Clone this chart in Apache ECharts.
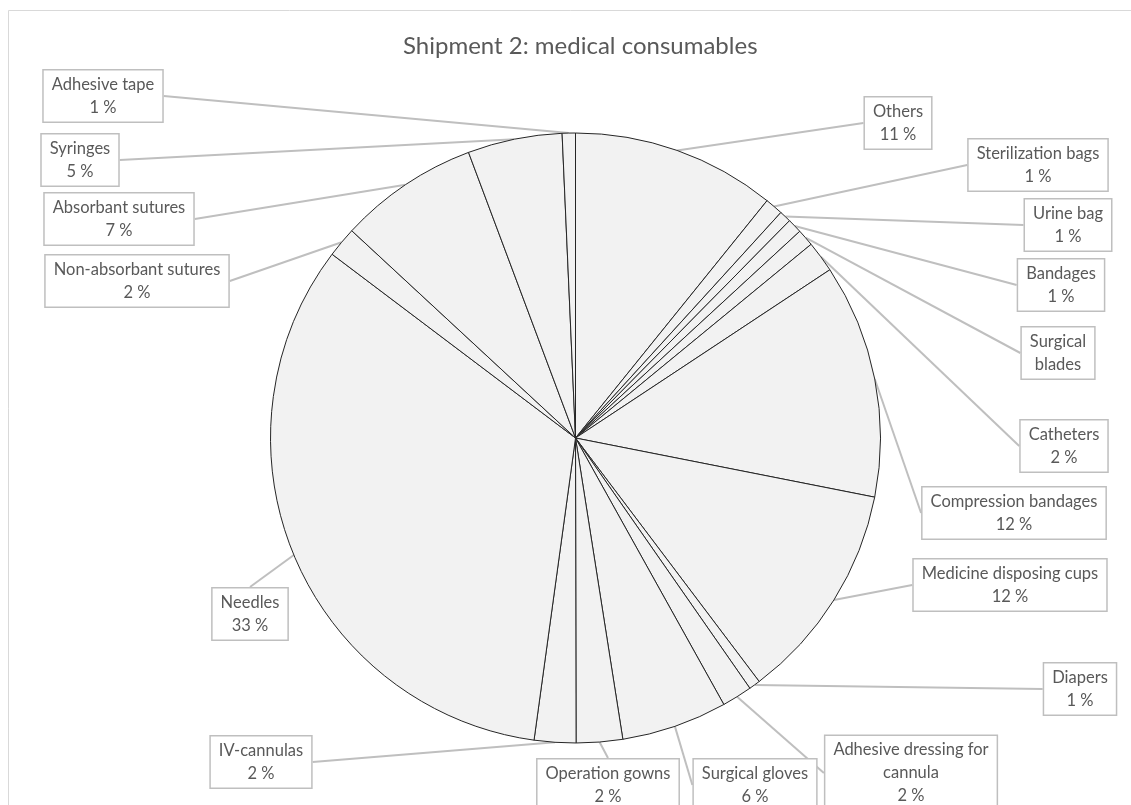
<!DOCTYPE html>
<html>
<head>
<meta charset="utf-8">
<script src="https://cdn.jsdelivr.net/npm/echarts@6/dist/echarts.min.js"></script>
<style>
  html, body { margin: 0; padding: 0; background: #fff; }
  #chart { width: 1131px; height: 805px; }
</style>
</head>
<body>
<div id="chart"></div>
<script>
// slices clockwise from 12 o'clock
const categories = [
  'Others', 'Sterilization bags', 'Urine bag', 'Bandages', 'Surgical blades',
  'Catheters', 'Compression bandages', 'Medicine disposing cups', 'Diapers',
  'Adhesive dressing for cannula', 'Surgical gloves', 'Operation gowns',
  'IV-cannulas', 'Needles', 'Non-absorbant sutures', 'Absorbant sutures',
  'Syringes', 'Adhesive tape'
];
const shares = [
  10.8, 0.95, 0.62, 0.77, 0.9,
  1.65, 12.4, 11.6, 0.6,
  1.6, 5.6, 2.45,
  2.2, 33.1, 1.6, 7.4,
  5.0, 0.7
];
// labels whose percentage is not shown in the source
const noPct = ['Surgical blades'];

// callout box centres (layout only)
const calloutPos = {
  'Others': [898, 123],
  'Sterilization bags': [1038, 165],
  'Urine bag': [1068, 225],
  'Bandages': [1061, 285],
  'Surgical blades': [1058, 353],
  'Catheters': [1064, 446],
  'Compression bandages': [1014, 513],
  'Medicine disposing cups': [1010, 585],
  'Diapers': [1080, 689],
  'Adhesive dressing for cannula': [911, 773],
  'Surgical gloves': [755, 785],
  'Operation gowns': [608, 785],
  'IV-cannulas': [261, 762],
  'Needles': [250, 614],
  'Non-absorbant sutures': [137, 281],
  'Absorbant sutures': [119, 219],
  'Syringes': [80, 160],
  'Adhesive tape': [103, 96]
};

const chart = echarts.init(document.getElementById('chart'));

function labelText(p) {
  let name = p.name === 'Adhesive dressing for cannula' ? 'Adhesive dressing for\ncannula'
    : p.name === 'Surgical blades' ? 'Surgical\nblades' : p.name;
  if (noPct.indexOf(p.name) >= 0) return name;
  return name + '\n' + Math.round(p.percent) + ' %';
}

const option = {
  backgroundColor: '#fff',
  animation: false,
  title: {
    text: 'Shipment 2: medical consumables',
    left: 398,
    top: 29,
    textStyle: { fontFamily: 'Lato', fontSize: 24, fontWeight: 'normal', color: '#595959' }
  },
  graphic: [{
    type: 'rect',
    shape: { x: 8.5, y: 10.5, width: 1300, height: 1000 },
    style: { fill: 'none', stroke: '#d9d9d9', lineWidth: 1 },
    silent: true
  }],
  series: [{
    type: 'pie',
    center: [575.5, 438],
    radius: 305,
    startAngle: 90,
    clockwise: true,
    avoidLabelOverlap: false,
    data: categories.map((c, i) => ({ name: c, value: shares[i] })),
    itemStyle: { color: '#f2f2f2', borderColor: '#262626', borderWidth: 1 },
    emphasis: { disabled: true },
    label: {
      show: true,
      formatter: labelText,
      fontFamily: 'Lato',
      fontSize: 16.5,
      lineHeight: 23,
      color: '#595959',
      backgroundColor: '#fff',
      borderColor: '#bfbfbf',
      borderWidth: 1.5,
      padding: [3, 8, 2, 8],
      align: 'center'
    },
    labelLine: {
      show: true,
      length: 10,
      length2: 0,
      lineStyle: { color: '#bfbfbf', width: 2 }
    },
    labelLayout: function (params) {
      const name = categories[params.dataIndex];
      const pos = calloutPos[name];
      return { x: pos[0], y: pos[1], align: 'center', verticalAlign: 'middle' };
    }
  }]
};
chart.setOption(option);
</script>
</body>
</html>
